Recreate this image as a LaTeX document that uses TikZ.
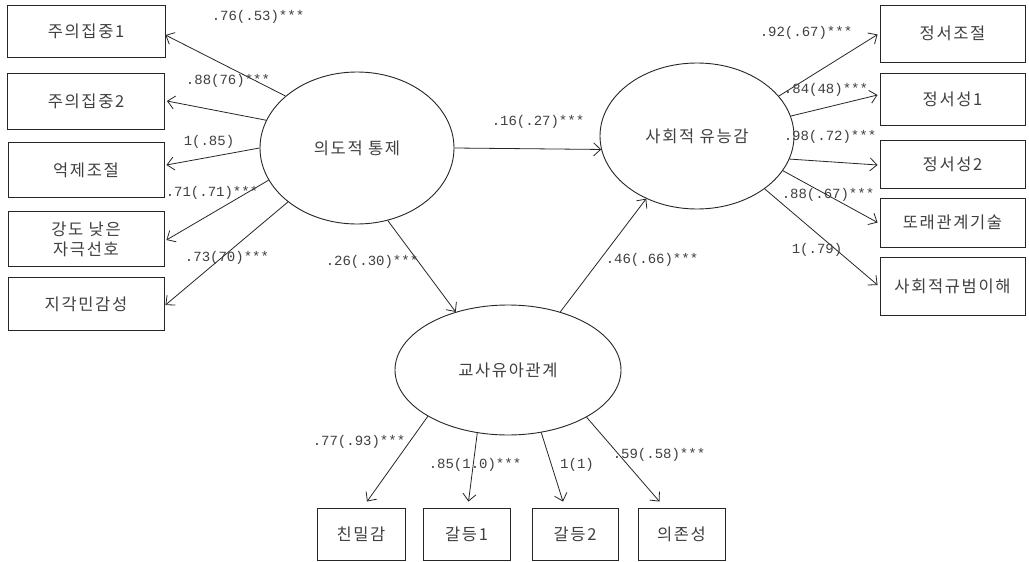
\documentclass[tikz,border=0pt]{standalone}
\usepackage{fontspec}
\newfontfamily\kr[LetterSpace=10]{Noto Sans CJK KR}
\newfontfamily\num{Liberation Mono}
\usetikzlibrary{arrows.meta,calc,shapes.geometric}
\definecolor{ink}{gray}{0.15}
\definecolor{txt}{gray}{0.25}
\tikzset{
  box/.style={draw=ink,line width=0.9pt,inner sep=0pt,align=center,text=txt,font=\kr\fontsize{16.5}{20}\selectfont},
  lat/.style={draw=ink,line width=0.9pt,ellipse,inner sep=0pt,text=txt,font=\kr\fontsize{16.5}{20}\selectfont},
  arr/.style={draw=ink,line width=0.8pt,-{Straight Barb[length=7pt,width=13pt,line width=0.8pt]}},
  lab/.style={text=txt,inner sep=0pt,font=\num\fontsize{14}{15}\selectfont}
}
\begin{document}
\begin{tikzpicture}[x=1pt,y=-1pt]
\useasboundingbox (0,0) rectangle (1029,562);
\fill[white] (0,0) rectangle (1029,562);
% latent variables
\node[lat,minimum width=194pt,minimum height=152pt] (e1) at (357,148) {의도적 통제};
\node[lat,minimum width=194pt,minimum height=146pt] (e2) at (697,136) {사회적 유능감};
\node[lat,minimum width=226pt,minimum height=130pt] (e3) at (508,370) {교사유아관계};
% left indicators
\node[box,minimum width=158pt,minimum height=52pt] (b1) at (86,31) {주의집중1};
\node[box,minimum width=157pt,minimum height=56pt] (b2) at (86,101) {주의집중2};
\node[box,minimum width=156pt,minimum height=55pt] (b3) at (86,170) {억제조절};
\node[box,minimum width=156pt,minimum height=55pt] (b4) at (86,239) {강도 낮은\\자극선호};
\node[box,minimum width=156pt,minimum height=53pt] (b5) at (86,304) {지각민감성};
% right indicators
\node[box,minimum width=145pt,minimum height=57pt] (r1) at (952.5,33.5) {정서조절};
\node[box,minimum width=145pt,minimum height=52pt] (r2) at (952.5,99) {정서성1};
\node[box,minimum width=145pt,minimum height=48pt] (r3) at (952.5,164) {정서성2};
\node[box,minimum width=145pt,minimum height=49pt] (r4) at (952.5,222.5) {또래관계기술};
\node[box,minimum width=145pt,minimum height=58pt] (r5) at (952.5,286) {사회적규범이해};
% bottom indicators
\node[box,minimum width=88pt,minimum height=52pt] (c1) at (361,534) {친밀감};
\node[box,minimum width=87pt,minimum height=52pt] (c2) at (466.5,534) {갈등1};
\node[box,minimum width=86pt,minimum height=52pt] (c3) at (575,534) {갈등2};
\node[box,minimum width=87pt,minimum height=52pt] (c4) at (681.5,534) {의존성};
% loadings of e1
\draw[arr] (e1.144.7) -- ($(b1.east)+(0,4)$);
\draw[arr] (e1.163.9) -- ($(b2.east)+(2,0)$);
\draw[arr] (e1.180) -- ($(b3.east)+(2,-5)$);
\draw[arr] (e1.200.2) -- ($(b4.east)+(2,1)$);
\draw[arr] (e1.218.2) -- ($(b5.east)+(1,1)$);
% structural paths
\draw[arr] (e1.0) -- (e2.188.2);
\draw[arr] (e1.293.3) -- (e3.132.5);
\draw[arr] (e3.48) -- (e2.231.1);
% loadings of e2
\draw[arr] (e2.26) -- ($(r1.west)+(-2,1)$);
\draw[arr] (e2.12.7) -- ($(r2.west)+(-2,-4)$);
\draw[arr] (e2.346.9) -- ($(r3.west)+(-2,1)$);
\draw[arr] (e2.338.4) -- ($(r4.west)+(-2,0)$);
\draw[arr] (e2.322.2) -- ($(r5.west)+(-2,-1)$);
% loadings of e3
\draw[arr] (e3.210.6) -- ($(c1.north)+(6,-6)$);
\draw[arr] (e3.244.5) -- ($(c2.north)+(2,-6)$);
\draw[arr] (e3.298.3) -- ($(c3.north)+(-12,-6)$);
\draw[arr] (e3.329.7) -- ($(c4.north)+(-22,-6)$);
% labels
\node[lab] (l1) at (258,17) {.76(.53)***};
\node[lab] (l2) at (228,81) {.88(76)***};
\node[lab] (l3) at (209,142) {1(.85)};
\node[lab] (l4) at (212,193) {.71(.71)***};
\node[lab] (l5) at (227,258) {.73(70)***};
\node[lab] (l6) at (538,122) {.16(.27)***};
\node[lab] (l7) at (372,262) {.26(.30)***};
\node[lab] (l8) at (652,260) {.46(.66)***};
\node[lab] (l9) at (806,33) {.92(.67)***};
\node[lab] (l10) at (826,90) {.84(48)***};
\node[lab] (l11) at (830,137) {.98(.72)***};
\node[lab] (l12) at (828,195) {.88(.67)***};
\node[lab] (l13) at (817,250) {1(.79)};
\node[lab] (l14) at (359,442) {.77(.93)***};
\node[lab] (l15) at (475,465) {.85(1.0)***};
\node[lab] (l16) at (577,465) {1(1)};
\node[lab] (l17) at (659,455) {.59(.58)***};
\end{tikzpicture}
\end{document}
